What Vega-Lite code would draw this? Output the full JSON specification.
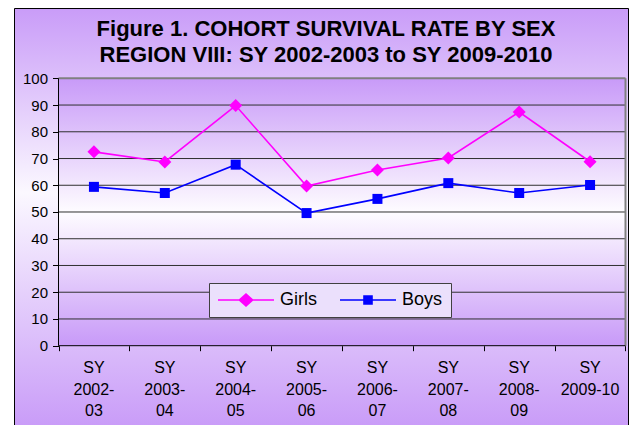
{
  "$schema": "https://vega.github.io/schema/vega-lite/v6.json",
  "width": 614,
  "height": 418,
  "autosize": {"type": "none"},
  "padding": {"left": 14, "top": 8, "right": 2, "bottom": 0},
  "background": "#ffffff",
  "config": {
    "view": {
      "fill": {"gradient": "linear", "x1": 0, "y1": 0, "x2": 0, "y2": 1,
        "stops": [{"offset": 0, "color": "#c99cf8"}, {"offset": 0.44, "color": "#fbf8ff"}, {"offset": 1, "color": "#c99cf8"}]},
      "stroke": "#000000",
      "strokeWidth": 1
    },
    "font": "Liberation Sans"
  },
  "title": {
    "text": ["Figure 1.  COHORT SURVIVAL RATE BY SEX", "REGION VIII: SY 2002-2003  to SY 2009-2010"],
    "fontSize": 22,
    "font": "Liberation Sans",
    "fontWeight": "bold",
    "color": "#000000",
    "anchor": "middle",
    "frame": "group",
    "baseline": "top",
    "offset": -59,
    "lineHeight": 26,
    "dx": 5
  },
  "resolve": {"scale": {"color": "independent", "shape": "independent"}},
  "data": {
    "values": [
      {"idx": 0, "year": "SY 2002-03", "sex": "Girls", "rate": 72.5},
      {"idx": 1, "year": "SY 2003-04", "sex": "Girls", "rate": 68.7},
      {"idx": 2, "year": "SY 2004-05", "sex": "Girls", "rate": 89.8},
      {"idx": 3, "year": "SY 2005-06", "sex": "Girls", "rate": 59.7},
      {"idx": 4, "year": "SY 2006-07", "sex": "Girls", "rate": 65.7},
      {"idx": 5, "year": "SY 2007-08", "sex": "Girls", "rate": 70.2},
      {"idx": 6, "year": "SY 2008-09", "sex": "Girls", "rate": 87.4},
      {"idx": 7, "year": "SY 2009-10", "sex": "Girls", "rate": 68.8},
      {"idx": 0, "year": "SY 2002-03", "sex": "Boys", "rate": 59.4},
      {"idx": 1, "year": "SY 2003-04", "sex": "Boys", "rate": 57.1},
      {"idx": 2, "year": "SY 2004-05", "sex": "Boys", "rate": 67.7},
      {"idx": 3, "year": "SY 2005-06", "sex": "Boys", "rate": 49.6},
      {"idx": 4, "year": "SY 2006-07", "sex": "Boys", "rate": 54.9},
      {"idx": 5, "year": "SY 2007-08", "sex": "Boys", "rate": 60.8},
      {"idx": 6, "year": "SY 2008-09", "sex": "Boys", "rate": 57.1},
      {"idx": 7, "year": "SY 2009-10", "sex": "Boys", "rate": 60.1}
    ]
  },
  "layer": [
    {
      "data": {"values": [{}]},
      "mark": {"type": "rect", "fill": {"gradient": "linear", "x1": 0, "y1": 0, "x2": 0, "y2": 1,
        "stops": [{"offset": 0, "color": "#c89af8"}, {"offset": 0.5, "color": "#fefcff"}, {"offset": 1, "color": "#c89af8"}]}},
      "encoding": {
        "x": {"datum": -0.5, "type": "quantitative", "scale": {"domain": [-1.1279, 7.5353], "nice": false, "zero": false}, "title": null},
        "x2": {"datum": 7.5},
        "y": {"datum": 0, "type": "quantitative", "scale": {"domain": [-30.03, 126.29], "nice": false, "zero": false}, "title": null},
        "y2": {"datum": 100}
      }
    },
    {
      "data": {"values": [{"g": 10}, {"g": 20}, {"g": 30}, {"g": 40}, {"g": 50}, {"g": 60}, {"g": 70}, {"g": 80}, {"g": 90}]},
      "mark": {"type": "rule", "color": "#303030", "strokeWidth": 1},
      "encoding": {
        "x": {"datum": -0.5, "type": "quantitative", "title": null},
        "x2": {"datum": 7.5},
        "y": {"field": "g", "type": "quantitative", "title": null}
      }
    },
    {
      "data": {"values": [{}]},
      "mark": {"type": "rule", "color": "#808080", "strokeWidth": 2},
      "encoding": {
        "x": {"datum": -0.5, "type": "quantitative", "title": null},
        "x2": {"datum": 7.5},
        "y": {"datum": 100, "type": "quantitative", "title": null}
      }
    },
    {
      "data": {"values": [{}]},
      "mark": {"type": "rule", "color": "#808080", "strokeWidth": 2},
      "encoding": {
        "x": {"datum": 7.5, "type": "quantitative", "title": null},
        "y": {"datum": 0, "type": "quantitative", "title": null},
        "y2": {"datum": 100}
      }
    },
    {
      "data": {"values": [{}]},
      "mark": {"type": "rule", "color": "#000000", "strokeWidth": 1},
      "encoding": {
        "x": {"datum": -0.5, "type": "quantitative", "title": null},
        "y": {"datum": 0, "type": "quantitative", "title": null},
        "y2": {"datum": 100}
      }
    },
    {
      "data": {"values": [{}]},
      "mark": {"type": "rule", "color": "#000000", "strokeWidth": 1},
      "encoding": {
        "x": {"datum": -0.5, "type": "quantitative", "title": null},
        "x2": {"datum": 7.5},
        "y": {"datum": 0, "type": "quantitative", "title": null}
      }
    },
    {
      "data": {"values": [
        {"idx": 0, "label": ["SY", "2002-", "03"]},
        {"idx": 1, "label": ["SY", "2003-", "04"]},
        {"idx": 2, "label": ["SY", "2004-", "05"]},
        {"idx": 3, "label": ["SY", "2005-", "06"]},
        {"idx": 4, "label": ["SY", "2006-", "07"]},
        {"idx": 5, "label": ["SY", "2007-", "08"]},
        {"idx": 6, "label": ["SY", "2008-", "09"]},
        {"idx": 7, "label": ["SY", "2009-10"]}
      ]},
      "mark": {"type": "text", "baseline": "top", "align": "center", "font": "Liberation Sans", "fontSize": 16, "lineHeight": 21.7, "color": "#000000"},
      "encoding": {
        "x": {"field": "idx", "type": "quantitative", "title": null},
        "y": {"datum": -5.3, "type": "quantitative", "title": null},
        "text": {"field": "label", "type": "nominal"}
      }
    },
    {
      "mark": {"type": "line", "strokeWidth": 1.6},
      "encoding": {
        "x": {
          "field": "idx", "type": "quantitative", "title": null,
          "scale": {"domain": [-1.1279, 7.5353], "nice": false, "zero": false},
          "axis": {
            "values": [-0.5, 0.5, 1.5, 2.5, 3.5, 4.5, 5.5, 6.5, 7.5],
            "offset": -80.3,
            "domain": false,
            "grid": false,
            "ticks": true,
            "tickSize": 5,
            "tickColor": "#000000",
            "labels": false,
            "title": null
          }
        },
        "y": {
          "field": "rate", "type": "quantitative", "title": null,
          "scale": {"domain": [-30.03, 126.29], "nice": false, "zero": false},
          "axis": {
            "values": [0, 10, 20, 30, 40, 50, 60, 70, 80, 90, 100],
            "offset": -44.5,
            "domain": false,
            "grid": false,
            "tickSize": 6,
            "tickColor": "#000000",
            "labelFont": "Liberation Sans",
            "labelFontSize": 15,
            "labelColor": "#000000",
            "labelPadding": 5,
            "labelOverlap": false,
            "labelFlush": false,
            "labelBound": false,
            "title": null
          }
        },
        "color": {
          "field": "sex", "type": "nominal",
          "scale": {"domain": ["Girls", "Boys"], "range": ["#ff00ff", "#0000ff"]},
          "legend": null
        }
      }
    },
    {
      "mark": {"type": "point", "filled": true, "opacity": 1},
      "encoding": {
        "x": {"field": "idx", "type": "quantitative", "title": null},
        "y": {"field": "rate", "type": "quantitative", "title": null},
        "color": {"field": "sex", "type": "nominal", "scale": {"domain": ["Girls", "Boys"], "range": ["#ff00ff", "#0000ff"]}, "legend": null},
        "shape": {"field": "sex", "type": "nominal", "scale": {"domain": ["Girls", "Boys"], "range": ["diamond", "square"]}, "legend": null},
        "size": {"field": "sex", "type": "ordinal", "scale": {"domain": ["Girls", "Boys"], "range": [170, 100]}, "legend": null}
      }
    },
    {
      "transform": [{"filter": "false"}],
      "mark": {"type": "point", "filled": true, "opacity": 1, "size": 256},
      "encoding": {
        "x": {"field": "idx", "type": "quantitative", "title": null},
        "y": {"field": "rate", "type": "quantitative", "title": null},
        "color": {
          "field": "sex", "type": "nominal",
          "scale": {"domain": ["Girls", "Boys"], "range": ["#ff00ff", "#0000ff"]},
          "legend": {
            "title": null,
            "orient": "none",
            "legendX": 195,
            "legendY": 275,
            "direction": "horizontal",
            "padding": 8,
            "fillColor": "#ebe0fc",
            "strokeColor": "#404040",
            "labelFont": "Liberation Sans",
            "labelFontSize": 18,
            "labelColor": "#000000",
            "labelOffset": 45,
            "columnPadding": 22,
            "symbolSize": 256,
            "symbolOpacity": 1,
            "symbolStrokeWidth": 0
          }
        },
        "shape": {
          "field": "sex", "type": "nominal",
          "scale": {"domain": ["Girls", "Boys"], "range": [
            "M-1,-0.1H1.625L2.5,-0.875L3.375,-0.1H6V0.1H3.375L2.5,0.875L1.625,0.1H-1Z",
            "M-1,-0.1H1.9V-0.6H3.1V-0.1H6V0.1H3.1V0.6H1.9V0.1H-1Z"
          ]},
          "legend": null
        }
      }
    }
  ]
}
